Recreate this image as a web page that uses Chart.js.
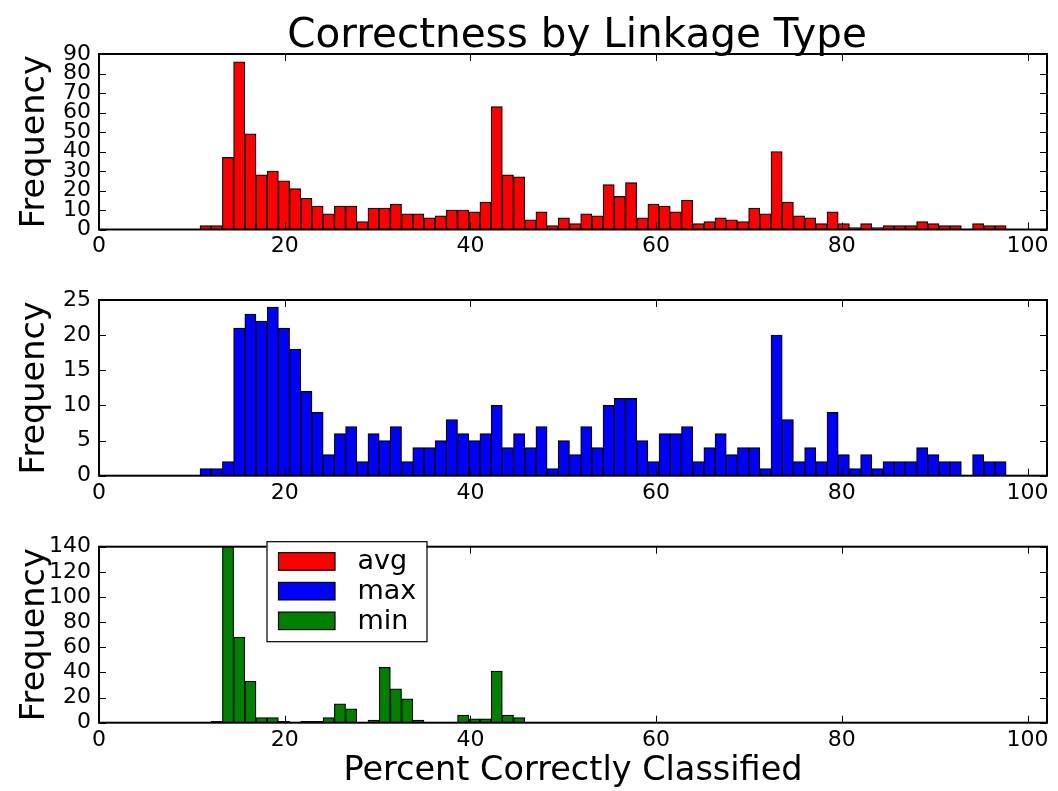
<!DOCTYPE html>
<html>
<head>
<meta charset="utf-8">
<script src="https://cdn.jsdelivr.net/npm/chart.js@4.4.1/dist/chart.umd.min.js"></script>
<style>
  html, body { margin: 0; padding: 0; background: #fff; }
  #wrap { position: relative; width: 1058px; height: 791px; overflow: hidden; }
  #wrap canvas { position: absolute; left: 0; }
</style>
</head>
<body>
<div id="wrap">
  <canvas id="avgChart" width="1058" height="258" style="top:0px"></canvas>
  <canvas id="maxChart" width="1058" height="250" style="top:258px"></canvas>
  <canvas id="minChart" width="1058" height="283" style="top:508px"></canvas>
</div>
<script>
// Series (one histogram per linkage type)
const seriesNames  = ['avg', 'max', 'min'];
const seriesColors = ['#ff0000', '#0000ff', '#008000'];

// Histogram counts, 72 equal-width bins between binLow and binHigh
const avgCounts = [2, 2, 37, 86, 49, 28, 30, 25, 21, 16, 12, 8, 12, 12, 4, 11, 11, 13, 8, 8,
                   6, 7, 10, 10, 9, 14, 63, 28, 27, 5, 9, 2, 6, 3, 8, 7, 23, 17, 24, 6,
                   13, 12, 9, 15, 3, 4, 6, 5, 4, 11, 8, 40, 14, 7, 6, 3, 9, 3, 1, 3,
                   1, 2, 2, 2, 4, 3, 2, 2, 0, 3, 2, 2];
const maxCounts = [1, 1, 2, 21, 23, 22, 24, 21, 18, 12, 9, 3, 6, 7, 2, 6, 5, 7, 2, 4,
                   4, 5, 8, 6, 5, 6, 10, 4, 6, 4, 7, 1, 5, 3, 7, 4, 10, 11, 11, 5,
                   2, 6, 6, 7, 2, 4, 6, 3, 4, 4, 1, 20, 8, 2, 4, 2, 9, 3, 1, 3,
                   1, 2, 2, 2, 4, 3, 2, 2, 0, 3, 2, 2];
const minCounts = [0, 1, 140, 68, 33, 4, 4, 1, 0, 1, 1, 4, 15, 11, 0, 2, 44, 27, 19, 2,
                   0, 0, 0, 6, 3, 3, 41, 6, 4, 0, 0, 0, 0, 0, 0, 0, 0, 0, 0, 0,
                   0, 0, 0, 0, 0, 0, 0, 0, 0, 0, 0, 0, 0, 0, 0, 0, 0, 0, 0, 0,
                   0, 0, 0, 0, 0, 0, 0, 0, 0, 0, 0, 0];
const binLow = 10.88;
const binHigh = 97.7;

// Axis limits and tick steps
const xMin = 0, xMax = 102.1, xStep = 20;
const yMaxes = [90, 25, 140];
const ySteps = [10, 5, 20];

const chartTitle = 'Correctness by Linkage Type';
const yLabel = 'Frequency';
const xLabel = 'Percent Correctly Classified';

const FONT = 'DejaVu Sans';
const TICK_SIZE = 22;
const LABEL_SIZE = 33.5;
Chart.defaults.font.family = FONT;
Chart.defaults.color = '#000';

const binWidth = (binHigh - binLow) / avgCounts.length;
const binCenters = avgCounts.map((_, i) => binLow + (i + 0.5) * binWidth);

// Box around the plot area with inward tick marks on all four sides
const framePlugin = {
  id: 'frame',
  afterDatasetsDraw(chart) {
    const { ctx, chartArea: a, scales: { x, y } } = chart;
    const len = 7;
    ctx.save();
    ctx.strokeStyle = '#000';
    ctx.lineWidth = 1;
    ctx.beginPath();
    x.ticks.forEach(t => {
      const p = Math.round(x.getPixelForValue(t.value)) + 0.5;
      ctx.moveTo(p, a.bottom); ctx.lineTo(p, a.bottom - len);
      ctx.moveTo(p, a.top);    ctx.lineTo(p, a.top + len);
    });
    y.ticks.forEach(t => {
      const p = Math.round(y.getPixelForValue(t.value)) + 0.5;
      ctx.moveTo(a.left, p);  ctx.lineTo(a.left + len, p);
      ctx.moveTo(a.right, p); ctx.lineTo(a.right - len, p);
    });
    ctx.stroke();
    ctx.lineWidth = 2;
    ctx.strokeRect(a.left, a.top, a.right - a.left, a.bottom - a.top);
    ctx.restore();
  }
};

// Figure title above the first panel
const titlePlugin = {
  id: 'figTitle',
  afterDraw(chart) {
    const { ctx, chartArea: a } = chart;
    ctx.save();
    ctx.font = '40.5px "' + FONT + '"';
    ctx.fillStyle = '#000';
    ctx.textAlign = 'center';
    ctx.textBaseline = 'alphabetic';
    ctx.fillText(chartTitle, (a.left + a.right) / 2 + 4, a.top - 7);
    ctx.restore();
  }
};

// Shared legend for all three series, boxed inside the last panel
const legendPlugin = {
  id: 'figLegend',
  afterDraw(chart) {
    const { ctx, chartArea: a } = chart;
    const left = a.left + 167.5, top = a.top - 5.5, w = 160, h = 100;
    ctx.save();
    ctx.fillStyle = '#fff';
    ctx.fillRect(left, top, w, h);
    ctx.strokeStyle = '#000';
    ctx.lineWidth = 1.2;
    ctx.strokeRect(left + 0.5, top + 0.5, w, h);
    ctx.font = '27px "' + FONT + '"';
    ctx.textAlign = 'left';
    ctx.textBaseline = 'alphabetic';
    seriesNames.forEach((name, i) => {
      const sy = top + 11.5 + i * 29.7;
      ctx.fillStyle = seriesColors[i];
      ctx.fillRect(left + 12, sy, 56.5, 17.5);
      ctx.strokeStyle = '#000';
      ctx.strokeRect(left + 12, sy, 56.5, 17.5);
      ctx.fillStyle = '#000';
      ctx.fillText(name, left + 91, sy + 16.5);
    });
    ctx.restore();
  }
};

function makeHistogram(canvasId, idx, counts, layoutTop, xAxisHeight, showXLabel, extraPlugins) {
  return new Chart(document.getElementById(canvasId), {
    type: 'bar',
    data: {
      datasets: [{
        label: seriesNames[idx],
        data: binCenters.map((c, i) => ({ x: c, y: counts[i] })),
        backgroundColor: seriesColors[idx],
        borderColor: '#000',
        borderWidth: 1.2,
        borderSkipped: 'start',
        barPercentage: 1,
        categoryPercentage: 1
      }]
    },
    options: {
      responsive: false,
      animation: false,
      devicePixelRatio: 1,
      layout: { padding: { top: layoutTop, right: 11, bottom: 0, left: 0 } },
      plugins: {
        legend: { display: false },
        tooltip: { enabled: false },
        title: { display: false }
      },
      scales: {
        x: {
          type: 'linear',
          min: xMin, max: xMax,
          bounds: 'data',
          offset: false,
          grid: { display: false, drawTicks: false },
          border: { display: false },
          ticks: { stepSize: xStep, includeBounds: false, padding: 4, maxRotation: 0,
                   autoSkip: false, font: { size: TICK_SIZE }, color: '#000' },
          title: { display: showXLabel, text: xLabel, font: { size: LABEL_SIZE },
                   padding: { top: 0, bottom: 0 }, color: '#000' },
          afterFit(scale) { scale.height = xAxisHeight; }
        },
        y: {
          type: 'linear',
          min: 0, max: yMaxes[idx],
          bounds: 'data',
          grid: { display: false, drawTicks: false },
          border: { display: false },
          ticks: { stepSize: ySteps[idx], padding: 8, autoSkip: false,
                   font: { size: TICK_SIZE }, color: '#000' },
          title: { display: true, text: yLabel, font: { size: LABEL_SIZE },
                   padding: { top: 15, bottom: 0 }, color: '#000' },
          afterFit(scale) { scale.width = 99; }
        }
      }
    },
    plugins: [framePlugin].concat(extraPlugins)
  });
}

makeHistogram('avgChart', 0, avgCounts, 54, 28.5, false, [titlePlugin]);
makeHistogram('maxChart', 1, maxCounts, 42, 32.3, false, []);
makeHistogram('minChart', 2, minCounts, 38.7, 68.3, true, [legendPlugin]);
</script>
</body>
</html>
